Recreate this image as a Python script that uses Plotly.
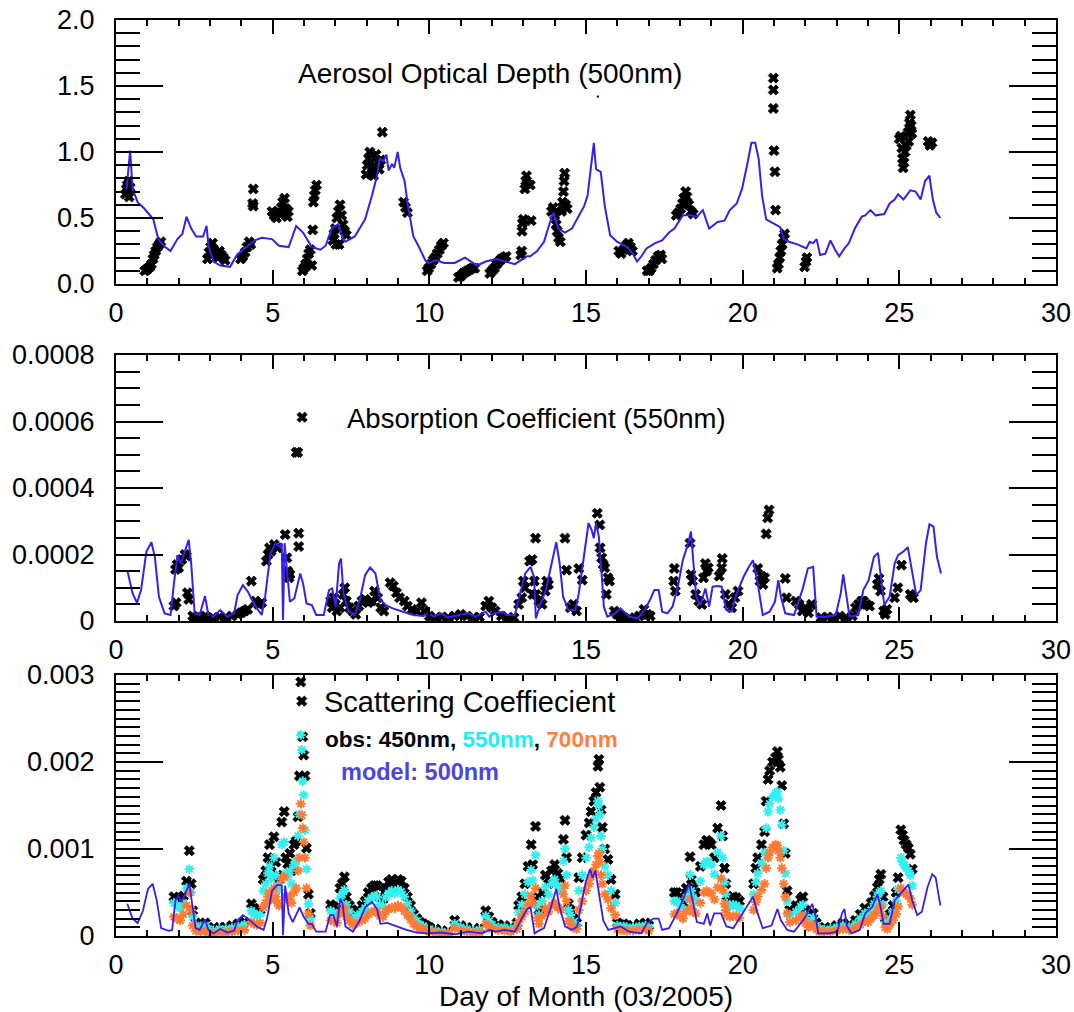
import plotly.graph_objects as go

W, H = 1074, 1012

# ---------------- Panel 1: Aerosol Optical Depth (500nm) ----------------
aod_model_day = [0.34, 0.45, 0.53, 0.69, 0.91, 1.19, 1.35, 1.52, 1.74, 1.96, 2.12, 2.25, 2.40, 2.56, 2.78, 2.89, 2.95,
                 3.11, 3.33, 3.64, 3.86, 4.10, 4.43, 4.65, 4.98, 5.20, 5.51, 5.75, 5.97, 6.25, 6.52, 6.69, 6.90, 7.10,
                 7.18, 7.32, 7.62, 7.95, 8.17, 8.33, 8.42, 8.53, 8.63, 8.70, 8.81, 8.88, 8.99, 9.07, 9.21, 9.32, 9.49,
                 9.65, 9.87, 9.98, 10.20, 10.48, 10.81, 11.14, 11.52, 11.80, 12.13, 12.40, 12.73, 13.12, 13.22, 13.44,
                 13.66, 13.88, 13.97, 14.11, 14.33, 14.55, 14.77, 14.94, 15.05, 15.16, 15.25, 15.32, 15.47, 15.60,
                 15.77, 15.99, 16.32, 16.49, 16.63, 16.77, 16.93, 17.21, 17.43, 17.65, 17.82, 18.09, 18.32, 18.54,
                 18.73, 18.93, 19.20, 19.42, 19.59, 19.81, 19.98, 20.14, 20.28, 20.40, 20.51, 20.62, 20.75, 20.98,
                 21.20, 21.31, 21.47, 21.75, 22.03, 22.14, 22.25, 22.36, 22.47, 22.64, 22.80, 22.95, 23.08, 23.25,
                 23.39, 23.58, 23.80, 23.91, 24.08, 24.24, 24.52, 24.69, 24.85, 24.96, 25.13, 25.35, 25.52, 25.68,
                 25.82, 25.96, 26.07, 26.18, 26.31]
aod_model_val = [0.72, 1.01, 0.72, 0.62, 0.57, 0.49, 0.34, 0.29, 0.25, 0.34, 0.38, 0.51, 0.42, 0.36, 0.36, 0.44, 0.29,
                 0.17, 0.14, 0.13, 0.22, 0.27, 0.33, 0.35, 0.34, 0.29, 0.28, 0.44, 0.39, 0.28, 0.26, 0.29, 0.43, 0.45,
                 0.38, 0.32, 0.36, 0.49, 0.67, 0.82, 0.95, 0.93, 0.98, 0.86, 0.91, 0.88, 1.00, 0.88, 0.78, 0.59, 0.36,
                 0.29, 0.18, 0.16, 0.18, 0.16, 0.16, 0.20, 0.14, 0.17, 0.19, 0.17, 0.15, 0.21, 0.21, 0.25,
                 0.32, 0.49, 0.54, 0.42, 0.39, 0.42, 0.52, 0.59, 0.67, 0.87, 1.07, 0.87, 0.85, 0.59,
                 0.37, 0.32, 0.28, 0.23, 0.17, 0.21, 0.27, 0.31, 0.33, 0.39, 0.42, 0.52, 0.52, 0.51,
                 0.56, 0.42, 0.47, 0.48, 0.56, 0.61, 0.72, 0.90, 1.07, 1.07, 0.95, 0.67, 0.49, 0.46,
                 0.43, 0.34, 0.32, 0.30, 0.27, 0.32, 0.31, 0.34, 0.22, 0.23, 0.33, 0.26, 0.21, 0.27,
                 0.31, 0.42, 0.51, 0.52, 0.56, 0.52, 0.53, 0.61, 0.64, 0.68, 0.64, 0.71, 0.70, 0.64,
                 0.78, 0.82, 0.64, 0.54, 0.50]

aod_obs_day = [0.30, 0.33, 0.36, 0.38, 0.40, 0.42, 0.45,
               0.92, 0.98, 1.03, 1.08, 1.13, 1.18, 1.22, 1.27, 1.32, 1.38, 1.43,
               2.92, 2.97, 3.02, 3.08, 3.12, 3.18, 3.25, 3.30, 3.36, 3.42, 3.48,
               3.98, 4.05, 4.12, 4.18, 4.25, 4.30, 4.38, 4.38, 4.36,
               4.98, 5.05, 5.12, 5.18, 5.22, 5.28, 5.32, 5.38, 5.42, 5.47, 5.50,
               5.95, 6.00, 6.05, 6.10, 6.15, 6.20, 6.25, 6.28, 6.30, 6.33, 6.36, 6.40,
               6.92, 6.96, 7.00, 7.05, 7.10, 7.15, 7.20, 7.25, 7.30, 7.35, 7.12, 7.02,
               7.98, 8.02, 8.06, 8.10, 8.14, 8.18, 8.22, 8.26, 8.30, 8.35, 8.40, 8.45, 8.50,
               9.18, 9.24, 9.30,
               9.93, 9.98, 10.05, 10.12, 10.18, 10.25, 10.32, 10.38, 10.45,
               10.93, 11.00, 11.08, 11.15, 11.22, 11.30, 11.38, 11.45,
               11.93, 12.00, 12.08, 12.15, 12.22, 12.30, 12.38, 12.45,
               12.92, 12.95, 12.96, 12.97, 13.00, 13.05, 13.08, 13.10, 13.12, 13.22, 13.25,
               13.90, 13.95, 14.00, 14.05, 14.08, 14.12, 14.18, 14.22, 14.25, 14.28, 14.30, 14.32, 14.35, 14.40,
               16.05, 16.12, 16.20, 16.28, 16.35, 16.42, 16.48,
               16.95, 17.02, 17.08, 17.15, 17.22, 17.30, 17.38, 17.42,
               17.88, 17.95, 18.02, 18.08, 18.12, 18.18, 18.22, 18.28, 18.35, 18.42,
               20.98, 20.98, 20.98, 21.00, 21.03, 21.05,
               21.10, 21.14, 21.18, 21.22, 21.26, 21.30, 21.34,
               21.98, 22.02, 22.05,
               25.00, 25.05, 25.08, 25.10, 25.12, 25.15, 25.18, 25.22, 25.28, 25.32, 25.35, 25.38, 25.40, 25.30,
               25.92, 25.98, 26.04]
aod_obs_val = [0.68, 0.72, 0.75, 0.70, 0.78, 0.66, 0.73,
               0.10, 0.11, 0.12, 0.13, 0.15, 0.19, 0.22, 0.25, 0.28, 0.30, 0.32,
               0.19, 0.24, 0.28, 0.31, 0.26, 0.22, 0.20, 0.25, 0.22, 0.20, 0.18,
               0.19, 0.21, 0.24, 0.28, 0.32, 0.30, 0.72, 0.59, 0.61,
               0.55, 0.52, 0.50, 0.55, 0.53, 0.58, 0.62, 0.65, 0.57, 0.51, 0.55,
               0.10, 0.12, 0.15, 0.19, 0.23, 0.26, 0.14, 0.41, 0.62, 0.67, 0.71, 0.75,
               0.33, 0.38, 0.42, 0.50, 0.55, 0.60, 0.52, 0.45, 0.40, 0.37, 0.30, 0.30,
               0.83, 0.90, 0.95, 1.00, 0.92, 0.85, 0.82, 0.88, 0.98, 0.92, 0.87, 0.94, 1.15,
               0.62, 0.58, 0.54,
               0.10, 0.12, 0.15, 0.18, 0.20, 0.23, 0.26, 0.29, 0.31,
               0.05, 0.06, 0.08, 0.09, 0.10, 0.11, 0.12, 0.12,
               0.08, 0.10, 0.12, 0.15, 0.17, 0.19, 0.20, 0.21,
               0.22, 0.25, 0.40, 0.46, 0.49, 0.72, 0.78, 0.82, 0.76, 0.75, 0.48,
               0.55, 0.58, 0.52, 0.45, 0.40, 0.35, 0.32, 0.55, 0.62, 0.70, 0.78, 0.84, 0.60, 0.57,
               0.25, 0.23, 0.26, 0.29, 0.31, 0.28, 0.25,
               0.10, 0.10, 0.12, 0.15, 0.18, 0.21, 0.22, 0.19,
               0.52, 0.54, 0.57, 0.61, 0.65, 0.70, 0.66, 0.60, 0.55, 0.53,
               1.56, 1.47, 1.33, 1.01, 0.85, 0.56,
               0.12, 0.15, 0.20, 0.25, 0.30, 0.35, 0.38,
               0.13, 0.17, 0.20,
               1.10, 1.12, 1.03, 0.95, 0.88, 0.92, 1.00, 1.05, 1.15, 1.22, 1.28, 1.20, 1.14, 1.08,
               1.08, 1.05, 1.07]
aod_stray_day = [15.38]
aod_stray_val = [1.42]

# ---------------- Panel 2: Absorption Coefficient (550nm), values in 1e-4 ----------------
abs_model_day = [0.36, 0.53, 0.67, 0.80, 0.97, 1.13, 1.24, 1.37, 1.55, 1.74, 1.85, 1.96, 2.07, 2.20, 2.32, 2.40, 2.51,
                 2.67, 2.84, 2.95, 3.11, 3.33, 3.55, 3.77, 3.88, 4.05, 4.21, 4.43, 4.65, 4.76, 4.93, 5.09, 5.22, 5.29,
                 5.33, 5.38, 5.48, 5.55, 5.69, 5.88, 5.97, 6.08, 6.25, 6.39, 6.63, 6.80, 6.90, 7.01, 7.12, 7.18, 7.26,
                 7.40, 7.62, 7.78, 7.95, 8.11, 8.28, 8.44, 8.61, 8.83, 9.16, 9.49, 9.82, 9.98, 10.15, 10.37, 10.59,
                 10.92, 11.25, 11.47, 11.80, 11.91, 12.13, 12.35, 12.46, 12.73, 12.90, 13.06, 13.23, 13.34, 13.40,
                 13.50, 13.72, 13.94, 14.05, 14.16, 14.27, 14.44, 14.66, 14.77, 14.94, 15.08, 15.18, 15.25, 15.32,
                 15.41, 15.49, 15.57, 15.68, 15.93, 16.10, 16.38, 16.65, 16.88, 17.04, 17.18, 17.32, 17.43, 17.60,
                 17.76, 17.93, 18.09, 18.26, 18.35, 18.43, 18.52, 18.65, 18.81, 18.93, 19.04, 19.20, 19.33, 19.48,
                 19.64, 19.81, 20.03, 20.20, 20.33, 20.48, 20.64, 20.86, 21.03, 21.14, 21.22, 21.36, 21.64, 21.92,
                 22.08, 22.25, 22.36, 22.64, 22.97, 23.13, 23.21, 23.30, 23.41, 23.69, 23.85, 24.02, 24.19, 24.32,
                 24.41, 24.52, 24.69, 24.85, 24.96, 25.13, 25.27, 25.41, 25.54, 25.68, 25.85, 25.96, 26.09, 26.20,
                 26.33]
abs_model_e4 = [1.53, 0.83, 0.55, 0.93, 2.09, 2.37, 1.93, 0.73, 0.23, 0.18, 1.13, 1.98, 1.73, 2.14, 2.44, 1.73, 0.23,
                0.18, 0.75, 0.18, 0.13, 0.33, 0.13, 0.23, 0.78, 1.08, 0.88, 0.48, 0.18, 0.73, 2.04, 2.34, 2.24, 2.34,
                0.03, 2.34, 1.23, 0.58, 0.68, 1.43, 1.13, 0.53, 0.48, 0.18, 0.18, 0.93, 0.98, 0.43, 1.73, 1.88, 0.83,
                0.33, 0.18, 0.63, 1.38, 1.61, 1.43, 0.63, 0.48, 0.38, 0.28, 0.18, 0.15, 0.23, 0.13, 0.23, 0.11,
                0.18, 0.23, 0.13, 0.28, 0.13, 0.25, 0.28, 0.18, 0.18, 0.83, 1.43, 1.63, 1.33, 0.08,
                0.38, 0.93, 1.93, 2.37, 1.73, 0.73, 0.33, 0.33, 0.83, 1.93, 2.94, 2.74, 2.49, 2.94,
                2.54, 1.53, 0.43, 0.13, 0.23, 0.38, 0.13, 0.08, 0.35, 0.63, 0.93, 0.93, 0.28, 0.23,
                0.43, 1.03, 1.83, 2.34, 2.69, 1.73, 0.73, 0.48, 0.98, 0.43, 1.03, 1.05, 1.03, 0.33,
                0.28, 0.83, 1.33, 1.63, 1.83, 1.13, 0.18, 0.28, 0.58, 1.23, 0.73, 0.23, 0.18, 0.98,
                1.58, 1.63, 0.13, 0.13, 0.18, 0.83, 1.40, 0.83, 0.13, 0.18, 0.93, 1.23, 1.93, 2.05,
                1.33, 0.48, 0.73, 1.73, 1.98, 2.09, 2.22, 1.53, 0.78, 0.93, 2.34, 2.91, 2.84, 1.93,
                1.43]

abs_obs_day = [1.85, 1.92, 1.90, 1.95, 2.00, 2.10, 2.20, 2.25, 2.28, 2.32,
               2.45, 2.55, 2.65, 2.75, 2.85, 2.95, 3.10, 3.30, 3.50, 3.70, 3.90, 4.00, 4.10, 4.20,
               4.32, 4.45, 4.55, 4.65, 4.80, 4.85, 4.90, 4.95, 5.05, 5.15, 5.40,
               5.45, 5.48, 5.52, 5.55, 5.75, 5.80, 5.94, 5.83, 5.83,
               6.85, 6.90, 6.95, 7.00, 7.05, 7.15, 7.25, 7.30, 7.35, 7.45, 7.55, 7.65, 7.75, 7.85, 7.95, 8.05,
               8.15, 8.25, 8.35, 8.45, 8.55,
               8.75, 8.85, 8.95, 9.05, 9.20, 9.30, 9.45, 9.60, 9.75, 9.85,
               10.00, 10.20, 10.40, 10.60, 10.80, 11.00, 11.20, 11.40, 11.60, 11.80, 11.90, 12.00, 12.10,
               12.30, 12.50, 12.70,
               12.85, 12.95, 13.00, 13.05, 13.20, 13.28, 13.30, 13.35, 13.39,
               13.40, 13.50, 13.60, 13.70, 13.80, 13.75,
               14.33, 14.38, 14.77, 14.60, 14.50, 14.70, 14.88,
               15.36, 15.44, 15.45, 15.50, 15.55, 15.60, 15.70, 15.75, 15.65,
               15.90, 16.00, 16.10, 16.20, 16.40, 16.55, 16.70, 16.85, 16.95, 17.05,
               17.82, 17.80, 17.85, 18.32, 18.35, 18.40,
               18.50, 18.60, 18.70, 18.81, 18.85, 18.90, 18.75,
               19.35, 19.33, 19.25, 19.45, 19.55, 19.65, 19.75, 19.85,
               20.48, 20.55, 20.60, 20.65, 20.70, 20.84, 20.80, 20.75,
               21.36, 21.40, 21.70, 21.80, 21.90, 22.00, 22.10, 22.20,
               22.50, 22.70, 22.90, 23.10, 23.30, 23.50, 23.60, 23.70, 23.80, 23.85, 23.95, 24.05,
               24.35, 24.30, 24.40, 24.50, 24.55, 24.60, 24.85, 24.95, 25.07, 25.35, 25.40, 25.45]
abs_obs_e4 = [0.45, 0.55, 1.55, 1.70, 1.60, 1.85, 2.00, 1.95, 0.85, 0.65,
              0.15, 0.10, 0.12, 0.10, 0.15, 0.08, 0.10, 0.12, 0.10, 0.15, 0.20, 0.25, 0.30, 0.35,
              1.20, 0.60, 0.50, 0.55, 1.80, 2.00, 2.20, 2.10, 2.30, 2.20, 2.60,
              1.90, 1.50, 1.30, 1.40, 5.07, 5.07, 6.13, 2.64, 2.24,
              0.60, 0.40, 0.70, 0.50, 0.30, 0.40, 0.80, 1.00, 0.60, 0.40, 0.30, 0.20, 0.45, 0.60, 0.65, 0.55,
              0.60, 0.90, 0.70, 0.40, 0.30,
              1.15, 1.05, 0.85, 0.70, 0.60, 0.45, 0.35, 0.30, 0.55, 0.30,
              0.15, 0.10, 0.12, 0.10, 0.15, 0.20, 0.15, 0.10, 0.12, 0.45, 0.60, 0.40, 0.30,
              0.15, 0.10, 0.10,
              0.50, 0.70, 1.20, 1.00, 1.80, 1.85, 0.80, 1.20, 2.49,
              0.80, 0.60, 0.50, 0.90, 1.10, 1.20,
              2.49, 1.53, 1.58, 0.50, 0.40, 0.30, 1.23,
              3.24, 2.89, 2.20, 1.90, 1.70, 1.60, 1.30, 1.20, 0.80,
              0.30, 0.20, 0.15, 0.10, 0.08, 0.10, 0.15, 0.35, 0.20, 0.15,
              1.58, 1.20, 0.90, 2.34, 1.40, 1.20,
              0.80, 0.60, 0.50, 1.73, 1.50, 1.60, 1.30,
              1.88, 1.60, 1.35, 0.80, 0.50, 0.40, 0.70, 0.90,
              1.58, 1.20, 1.35, 1.10, 1.30, 3.34, 3.10, 2.62,
              1.28, 0.70, 0.60, 0.50, 0.30, 0.40, 0.25, 0.50,
              0.10, 0.12, 0.10, 0.15, 0.10, 0.15, 0.40, 0.50, 0.60, 0.60, 0.50, 0.45,
              1.28, 1.10, 0.90, 0.30, 0.20, 0.35, 0.70, 1.00, 1.68, 0.80, 0.75, 0.70]

# ---------------- Panel 3: Scattering Coefficient, values in 1e-4 ----------------
sca_model_day = [0.36, 0.53, 0.69, 0.86, 1.02, 1.17, 1.30, 1.44, 1.68, 1.79, 1.90, 1.99, 2.09, 2.23, 2.34, 2.43, 2.54,
                 2.67, 2.84, 2.95, 3.11, 3.33, 3.55, 3.77, 3.88, 4.05, 4.21, 4.49, 4.71, 4.82, 4.98, 5.15, 5.29, 5.33,
                 5.40, 5.51, 5.64, 5.86, 5.99, 6.14, 6.25, 6.39, 6.69, 6.83, 6.94, 7.05, 7.16, 7.23, 7.32, 7.56, 7.78,
                 7.95, 8.17, 8.33, 8.44, 8.66, 8.94, 9.27, 9.60, 9.93, 10.37, 10.81, 11.25, 11.69, 11.91, 12.13,
                 12.40, 12.73, 12.95, 13.12, 13.23, 13.36, 13.44, 13.66, 13.88, 14.05, 14.16, 14.33, 14.55, 14.72,
                 14.83, 15.00, 15.13, 15.21, 15.30, 15.41, 15.55, 15.71, 15.93, 16.10, 16.38, 16.77, 16.93, 17.15,
                 17.32, 17.43, 17.65, 17.87, 18.09, 18.29, 18.40, 18.54, 18.76, 18.87, 18.96, 19.09, 19.31, 19.48,
                 19.70, 19.92, 20.14, 20.33, 20.48, 20.64, 20.92, 21.11, 21.22, 21.42, 21.64, 21.97, 22.22, 22.33,
                 22.41, 22.75, 23.02, 23.17, 23.25, 23.32, 23.47, 23.74, 23.91, 24.13, 24.30, 24.39, 24.50, 24.69,
                 24.85, 25.02, 25.18, 25.29, 25.41, 25.57, 25.72, 25.90, 26.05, 26.16, 26.31]
sca_model_e4 = [3.7, 2.0, 1.5, 2.9, 5.4, 6.0, 4.1, 0.9, 0.6, 0.7, 4.1, 4.6, 3.9, 5.2, 6.0, 3.7, 0.9,
                0.7, 1.9, 0.7, 0.3, 0.8, 0.4, 0.6, 1.8, 2.4, 2.0, 1.1, 0.7, 2.0, 5.2, 5.9, 5.8, 0.1,
                5.8, 2.6, 1.6, 3.3, 2.2, 1.4, 1.4, 0.5, 0.5, 2.4, 2.4, 1.1, 4.3, 3.7, 1.1, 0.5, 1.8,
                3.3, 3.9, 3.1, 1.4, 1.5, 1.1, 0.7, 0.4, 0.3, 0.4, 0.2, 0.5, 0.3, 0.7, 0.5,
                0.7, 0.5, 2.0, 3.1, 3.3, 0.3, 0.5, 0.9, 3.3, 5.4, 3.3, 1.1, 0.7, 1.1,
                3.3, 6.3, 7.7, 6.7, 7.5, 5.2, 1.8, 0.7, 0.9, 1.1, 0.5, 0.3, 1.4, 2.0,
                2.0, 0.7, 0.9, 2.4, 4.1, 6.0, 4.1, 1.6, 1.4, 2.6, 1.2, 2.6, 2.6, 1.1,
                0.9, 2.2, 3.5, 4.5, 2.6, 0.9, 1.2, 3.1, 1.8, 0.7, 0.5, 2.0, 3.7, 2.2,
                0.3, 0.3, 0.5, 2.6, 3.1, 1.2, 0.3, 0.7, 2.6, 3.3, 4.8, 3.5, 1.4, 1.4,
                4.1, 4.8, 5.4, 5.9, 4.1, 2.4, 2.8, 5.6, 7.1, 6.7, 3.5]

sca_obs_day = [1.85, 1.95, 2.05, 2.15, 2.25, 2.34, 2.40, 2.45, 2.55, 2.70, 2.85, 2.95, 3.10, 3.30, 3.50, 3.70,
               3.90, 4.10, 4.32, 4.40, 4.50, 4.60, 4.70, 4.78, 4.85, 4.90, 4.95, 5.04, 5.10, 5.15, 5.20, 5.29,
               5.37, 5.42, 5.48, 5.55, 5.60, 5.68, 5.75, 5.81, 5.85, 5.90, 5.93, 5.96, 5.99, 6.03, 6.08, 6.14,
               6.20, 6.85, 6.95, 7.05, 7.15, 7.22, 7.29, 7.35, 7.45, 7.55, 7.70, 7.85, 7.95, 8.05, 8.15, 8.25,
               8.33, 8.42, 8.52, 8.60, 8.70, 8.80, 8.90, 9.00, 9.10, 9.20, 9.30, 9.40, 9.50, 9.60, 9.70, 9.80,
               9.90, 10.00, 10.20, 10.40, 10.60, 10.81, 11.00, 11.20, 11.40, 11.60, 11.80, 11.90, 12.00, 12.20,
               12.40, 12.60, 12.80, 12.85, 12.95, 13.05, 13.15, 13.25, 13.30, 13.39, 13.45, 13.50, 13.60, 13.70,
               13.80, 13.90, 14.00, 14.10, 14.20, 14.28, 14.33, 14.38, 14.44, 14.50, 14.60, 14.70, 14.77, 14.88,
               15.00, 15.10, 15.16, 15.25, 15.32, 15.38, 15.41, 15.44, 15.48, 15.52, 15.60, 15.70, 15.80, 15.93,
               16.00, 16.10, 16.20, 16.30, 16.50, 16.70, 16.90, 17.00, 17.82, 17.90, 18.00, 18.10, 18.20, 18.32,
               18.36, 18.42, 18.50, 18.65, 18.76, 18.85, 18.92, 19.00, 19.10, 19.20, 19.31, 19.36, 19.42, 19.46,
               19.50, 19.60, 19.70, 19.80, 19.90, 20.35, 20.42, 20.48, 20.60, 20.70, 20.75, 20.81, 20.86, 20.95,
               21.05, 21.11, 21.14, 21.20, 21.25, 21.31, 21.36, 21.42, 21.50, 21.70, 21.85, 21.92, 22.00, 22.10,
               22.25, 22.35, 22.45, 22.60, 22.80, 23.00, 23.20, 23.40, 23.60, 23.75, 23.90, 24.00, 24.10, 24.20,
               24.30, 24.36, 24.41, 24.48, 24.55, 24.62, 24.70, 24.80, 24.90, 24.96, 25.05, 25.10, 25.15, 25.22,
               25.29, 25.35, 25.41]
sca450_e4 = [4.5, 4.2, 4.0, 4.6, 6.3, 9.8, 6.0, 2.9, 1.5, 1.2, 1.5, 1.0, 0.8, 1.0, 1.0, 1.2,
             1.4, 1.6, 3.7, 3.2, 2.8, 3.0, 6.5, 7.5, 9.0, 10.5, 8.0, 11.4, 8.5, 7.0, 6.5, 13.1,
             14.3, 9.0, 8.3, 9.5, 7.5, 10.5, 10.9, 13.7, 18.4, 29.2, 27.0, 22.9, 20.8, 18.4, 10.1, 4.8,
             2.6, 3.6, 3.4, 3.0, 5.5, 6.0, 6.8, 4.5, 3.5, 2.5, 3.0, 3.5, 4.0, 5.0, 5.5, 5.8,
             5.8, 4.5, 4.2, 5.5, 6.2, 6.5, 6.0, 6.5, 6.3, 5.5, 4.5, 3.5, 2.5, 2.0, 1.6, 1.4,
             1.2, 1.0, 0.8, 0.6, 0.5, 1.8, 1.2, 1.0, 0.7, 0.9, 2.9, 2.2, 1.6, 1.3,
             1.2, 1.0, 1.5, 3.5, 4.5, 6.0, 8.0, 10.5, 8.2, 12.6, 4.5, 3.0, 5.0, 7.0,
             6.0, 7.5, 8.2, 7.2, 6.5, 11.1, 13.3, 9.0, 3.7, 3.0, 2.0, 1.5, 6.7, 9.0,
             11.6, 13.0, 14.3, 15.5, 16.5, 19.5, 20.3, 17.1, 14.5, 12.5, 10.0, 8.8, 6.5, 4.8,
             1.5, 1.3, 1.4, 1.2, 1.2, 1.4, 1.5, 1.2, 5.0, 5.0, 4.5, 3.8, 5.5, 9.1,
             6.5, 5.5, 5.0, 8.0, 10.5, 11.0, 10.8, 10.5, 9.0, 12.4, 15.0, 11.5, 7.8, 6.0,
             4.6, 4.3, 4.5, 4.4, 4.0, 6.0, 7.8, 9.0, 10.5, 12.0, 15.5, 18.0, 19.0, 20.0,
             20.5, 21.2, 20.3, 19.4, 17.3, 12.9, 9.5, 5.2, 3.0, 3.5, 4.2, 4.5, 3.0, 2.0,
             2.6, 1.5, 1.0, 0.9, 1.0, 1.2, 1.5, 1.3, 1.8, 2.5, 3.2, 3.0, 3.8, 4.6,
             5.6, 6.5, 7.1, 4.5, 2.0, 1.5, 2.5, 3.5, 5.0, 6.7, 12.2, 11.6, 11.0, 10.5,
             10.1, 9.4, 7.7]
sca550_e4 = [3.8, 3.5, 3.2, 3.8, 5.5, 7.7, 5.0, 2.2, 1.2, 1.0, 1.2, 0.8, 0.6, 0.8, 0.8, 0.9,
             1.1, 1.3, 2.9, 2.6, 2.3, 2.5, 5.2, 6.0, 7.2, 8.0, 6.6, 9.0, 7.0, 5.8, 5.3, 10.5,
             10.8, 7.2, 6.8, 7.5, 6.0, 8.2, 8.6, 11.5, 14.0, 23.1, 21.4, 17.8, 16.2, 12.2, 7.7, 3.7,
             2.0, 2.9, 2.7, 2.4, 4.3, 4.8, 5.3, 3.6, 2.8, 2.0, 2.4, 2.8, 3.2, 4.0, 4.4, 4.6,
             4.5, 3.6, 3.4, 4.4, 4.9, 5.2, 4.9, 5.3, 5.1, 4.5, 3.7, 2.9, 2.1, 1.7, 1.3, 1.1,
             1.0, 0.8, 0.6, 0.5, 0.4, 1.4, 1.0, 0.8, 0.6, 0.7, 2.3, 1.7, 1.3, 1.0,
             1.0, 0.8, 1.2, 2.7, 3.6, 4.8, 6.2, 7.6, 6.4, 9.3, 3.5, 2.4, 4.0, 5.6,
             4.8, 6.0, 6.5, 5.8, 5.2, 8.6, 10.0, 7.0, 3.0, 2.4, 1.6, 1.2, 5.2, 7.0,
             9.0, 10.2, 11.3, 12.5, 13.5, 15.5, 15.0, 14.0, 11.5, 10.0, 8.0, 7.0, 5.2, 3.8,
             1.2, 1.0, 1.1, 1.0, 1.0, 1.1, 1.2, 1.0, 4.0, 4.0, 3.6, 3.1, 4.4, 7.0,
             5.2, 4.4, 4.0, 6.3, 8.2, 8.6, 8.5, 8.2, 7.1, 9.6, 11.5, 9.0, 6.2, 4.8,
             3.7, 3.4, 3.6, 3.5, 3.2, 4.8, 6.2, 7.2, 8.4, 9.6, 12.4, 14.3, 15.2, 16.0,
             16.4, 16.6, 15.8, 14.5, 12.8, 9.8, 7.2, 4.0, 2.4, 2.8, 3.4, 3.6, 2.4, 1.6,
             2.1, 1.2, 0.8, 0.7, 0.8, 1.0, 1.2, 1.0, 1.4, 2.0, 2.6, 2.4, 3.0, 3.7,
             4.5, 5.0, 5.2, 3.6, 1.6, 1.2, 2.0, 2.8, 4.0, 5.4, 9.0, 8.5, 8.2, 7.8,
             7.5, 7.0, 5.8]
sca700_e4 = [2.2, 2.0, 1.8, 2.5, 3.5, 5.0, 3.0, 1.2, 0.6, 0.5, 0.6, 0.4, 0.3, 0.4, 0.4, 0.5,
             0.6, 0.7, 1.6, 1.4, 1.3, 1.5, 3.3, 3.8, 4.5, 5.0, 4.2, 5.5, 4.5, 3.8, 3.5, 6.5,
             6.8, 4.5, 4.2, 4.6, 3.8, 5.0, 5.5, 7.5, 9.0, 15.2, 13.9, 12.4, 10.8, 9.0, 5.5, 2.6,
             1.2, 1.8, 1.7, 1.5, 2.6, 3.0, 3.2, 2.3, 1.8, 1.3, 1.5, 1.8, 2.0, 2.5, 2.7, 2.9,
             2.8, 2.3, 2.2, 2.8, 3.1, 3.3, 3.2, 3.5, 3.3, 2.9, 2.4, 1.9, 1.4, 1.1, 0.9, 0.8,
             0.7, 0.5, 0.4, 0.3, 0.3, 0.9, 0.6, 0.5, 0.4, 0.4, 1.4, 1.1, 0.8, 0.7,
             0.6, 0.5, 0.8, 1.6, 2.2, 2.8, 3.6, 4.6, 3.8, 5.5, 2.1, 1.4, 2.3, 3.2,
             2.8, 3.5, 3.8, 3.3, 3.0, 4.8, 5.8, 4.0, 1.7, 1.4, 1.0, 0.8, 3.0, 4.0,
             5.2, 6.0, 6.8, 7.5, 8.2, 9.2, 9.5, 8.5, 7.0, 6.0, 4.8, 4.2, 3.2, 2.4,
             0.8, 0.7, 0.7, 0.6, 0.6, 0.7, 0.8, 0.6, 2.5, 2.6, 2.3, 2.0, 2.8, 4.2,
             3.2, 2.8, 2.6, 3.8, 5.0, 5.2, 5.0, 4.9, 4.2, 5.6, 6.6, 5.3, 3.7, 3.0,
             2.4, 2.2, 2.3, 2.3, 2.1, 3.0, 3.9, 4.5, 5.3, 6.0, 7.8, 9.0, 9.6, 10.2,
             10.5, 10.4, 9.8, 9.0, 7.8, 6.0, 4.5, 2.6, 1.6, 1.8, 2.2, 2.3, 1.5, 1.0,
             1.3, 0.8, 0.5, 0.5, 0.5, 0.6, 0.8, 0.7, 0.9, 1.3, 1.7, 1.6, 2.0, 2.4,
             2.9, 3.2, 3.4, 2.3, 1.0, 0.8, 1.3, 1.8, 2.5, 3.4, 5.5, 5.2, 5.0, 4.8,
             4.6, 4.3, 3.6]

# ---------------- styling ----------------
FONT = "Liberation Sans, Arial, sans-serif"
MODEL_BLUE = "#3a1ef0"
OBS_BLACK = "#000000"
CYAN = "#33f0f0"
ORANGE = "#ff7a33"


def px_x(p):
    return p / W


def px_y(p):
    return 1 - p / H


E4 = 1e-4
fig = go.Figure()

black_marker = dict(symbol="x", size=9, color=OBS_BLACK, line=dict(width=0.8, color=OBS_BLACK))

# panel 1
fig.add_trace(go.Scatter(x=aod_obs_day, y=aod_obs_val, mode="markers", xaxis="x", yaxis="y",
                         marker=black_marker, showlegend=False))
fig.add_trace(go.Scatter(x=aod_stray_day, y=aod_stray_val, mode="markers", xaxis="x", yaxis="y",
                         marker=dict(symbol="square", size=2, color=OBS_BLACK), showlegend=False))
fig.add_trace(go.Scatter(x=aod_model_day, y=aod_model_val, mode="lines", xaxis="x", yaxis="y",
                         line=dict(color=MODEL_BLUE, width=2), showlegend=False))

# panel 2
fig.add_trace(go.Scatter(x=abs_obs_day, y=[v * E4 for v in abs_obs_e4], mode="markers", xaxis="x2", yaxis="y2",
                         marker=black_marker, showlegend=False))
fig.add_trace(go.Scatter(x=abs_model_day, y=[v * E4 for v in abs_model_e4], mode="lines", xaxis="x2", yaxis="y2",
                         line=dict(color=MODEL_BLUE, width=2), showlegend=False))

# panel 3
fig.add_trace(go.Scatter(x=sca_obs_day, y=[v * E4 for v in sca450_e4], mode="markers", xaxis="x3", yaxis="y3",
                         marker=black_marker, showlegend=False))
fig.add_trace(go.Scatter(x=sca_obs_day, y=[v * E4 for v in sca550_e4], mode="markers", xaxis="x3", yaxis="y3",
                         marker=dict(symbol="asterisk-open", size=8, color=CYAN, line=dict(color=CYAN, width=2)),
                         showlegend=False))
fig.add_trace(go.Scatter(x=sca_obs_day, y=[v * E4 for v in sca700_e4], mode="markers", xaxis="x3", yaxis="y3",
                         marker=dict(symbol="asterisk-open", size=8, color=ORANGE, line=dict(color=ORANGE, width=2)),
                         showlegend=False))
fig.add_trace(go.Scatter(x=sca_model_day, y=[v * E4 for v in sca_model_e4], mode="lines", xaxis="x3", yaxis="y3",
                         line=dict(color=MODEL_BLUE, width=1.8), showlegend=False))

xdom = [px_x(116), px_x(1056)]
tickfont = dict(family=FONT, size=27, color="black")


def xaxis_cfg(anchor):
    return dict(domain=xdom, anchor=anchor, range=[0, 30], tickmode="array", tickvals=[0, 5, 10, 15, 20, 25, 30],
                ticktext=["0", "5", "10", "15", "20", "25", "30"], ticks="inside", ticklen=14, tickwidth=2,
                tickcolor="black", showline=True, linecolor="black", linewidth=2, mirror="ticks",
                showgrid=False, zeroline=False, tickfont=tickfont, ticklabelstandoff=4, automargin=False,
                minor=dict(dtick=1, tick0=0, ticks="inside", ticklen=6, tickwidth=2, tickcolor="black",
                           showgrid=False))


def yaxis_cfg(anchor, dom, rng, vals, texts, minor_dtick):
    return dict(domain=dom, anchor=anchor, range=rng, tickmode="array", tickvals=vals, ticktext=texts,
                ticks="inside", ticklen=47, tickwidth=2, tickcolor="black", showline=True, linecolor="black",
                linewidth=2, mirror="ticks", showgrid=False, zeroline=False, tickfont=tickfont,
                ticklabelstandoff=14, automargin=False,
                minor=dict(dtick=minor_dtick, tick0=0, ticks="inside", ticklen=24, tickwidth=2, tickcolor="black",
                           showgrid=False))


x3 = xaxis_cfg("y3")
x3["title"] = dict(text="Day of Month (03/2005)", font=dict(family=FONT, size=28, color="black"))

fig.update_layout(
    width=W, height=H, margin=dict(l=0, r=0, t=0, b=0, autoexpand=False), plot_bgcolor="white",
    paper_bgcolor="white",
    xaxis=xaxis_cfg("y"),
    xaxis2=xaxis_cfg("y2"),
    xaxis3=x3,
    yaxis=yaxis_cfg("x", [px_y(284), px_y(20)], [0, 2.0], [0, 0.5, 1.0, 1.5, 2.0],
                    ["0.0", "0.5", "1.0", "1.5", "2.0"], 0.1),
    yaxis2=yaxis_cfg("x2", [px_y(621), px_y(355)], [0, 0.0008], [0, 0.0002, 0.0004, 0.0006, 0.0008],
                     ["0", "0.0002", "0.0004", "0.0006", "0.0008"], 0.00005),
    yaxis3=yaxis_cfg("x3", [px_y(936), px_y(675)], [0, 0.003], [0, 0.001, 0.002, 0.003],
                     ["0", "0.001", "0.002", "0.003"], 0.0001),
)

ann = [
    dict(text="Aerosol Optical Depth (500nm)", x=px_x(490), y=px_y(73), xanchor="center", yanchor="middle",
         font=dict(family=FONT, size=28, color="black")),
    dict(text="Absorption Coefficient (550nm)", x=px_x(536), y=px_y(418), xanchor="center", yanchor="middle",
         font=dict(family=FONT, size=27.5, color="black")),
    dict(text="Scattering Coeffiecient", x=px_x(322), y=px_y(702), xanchor="left", yanchor="middle",
         font=dict(family=FONT, size=29, color="black")),
    dict(text="<b>obs: 450nm, </b><b><span style='color:#22eeee'>550nm</span></b><b>, </b>"
              "<b><span style='color:#ff8040'>700nm</span></b>",
         x=px_x(323), y=px_y(739), xanchor="left", yanchor="middle",
         font=dict(family=FONT, size=22.5, color="black")),
    dict(text="<b>model: 500nm</b>", x=px_x(339), y=px_y(772), xanchor="left", yanchor="middle",
         font=dict(family=FONT, size=23.5, color="#4b46dc")),
]
for a in ann:
    a.update(xref="paper", yref="paper", showarrow=False)
fig.update_layout(annotations=ann)

fig.write_html("out.html")
